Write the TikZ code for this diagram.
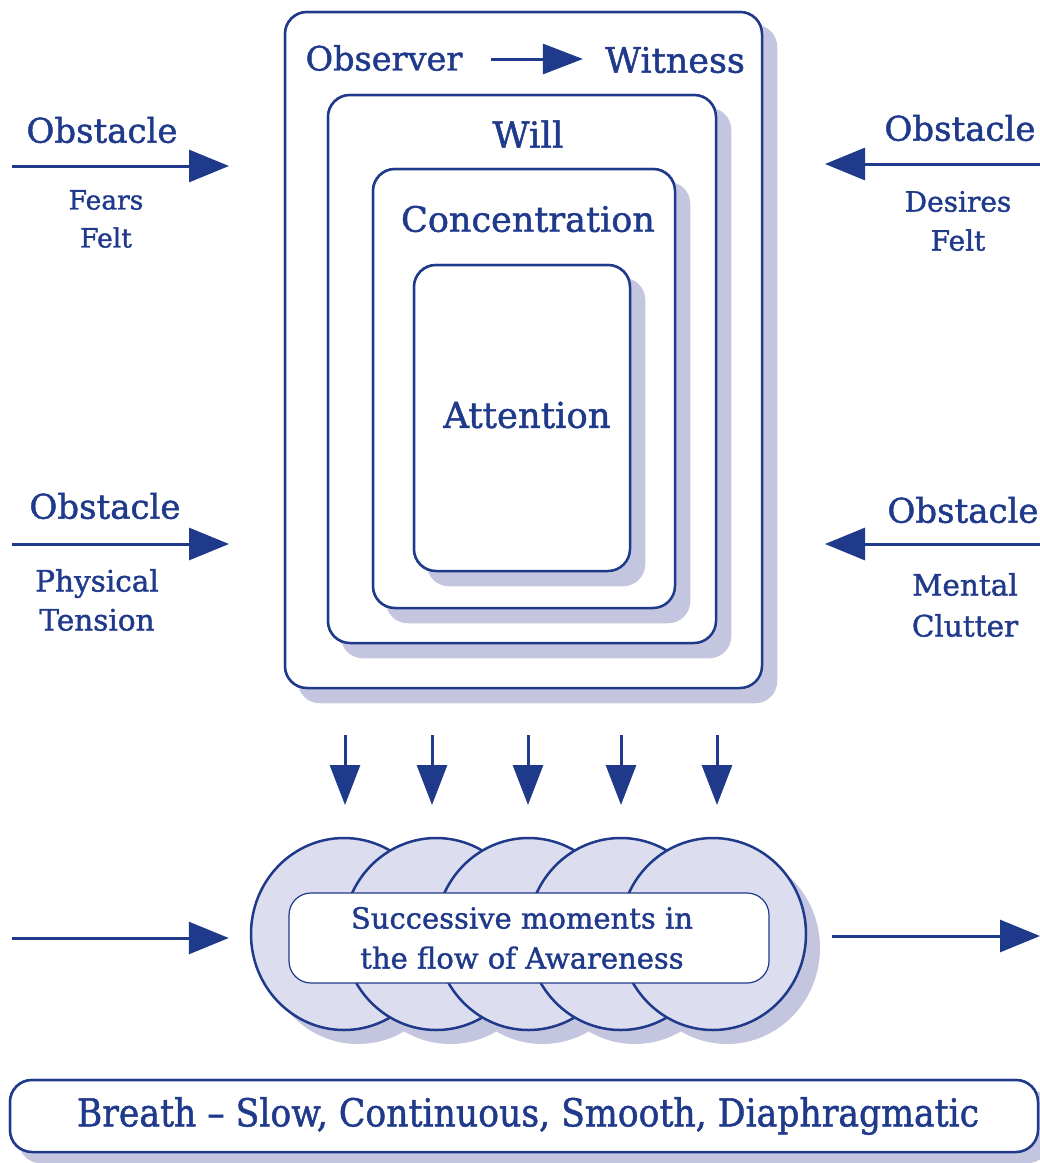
\documentclass[tikz,border=0pt]{standalone}
\usepackage{fontspec}
\setmainfont{DejaVu Serif}[FakeBold=1.3]
\usepackage{graphicx}
\usetikzlibrary{arrows.meta,shapes.geometric,calc}
\definecolor{navy}{RGB}{31,57,139}
\definecolor{shadowc}{RGB}{196,197,222}
\definecolor{disc}{RGB}{220,221,238}
\newcommand{\fsz}[1]{\fontsize{#1}{#1}\selectfont}
\tikzset{
 frame/.style={draw=navy, line width=2.5pt, fill=white, rounded corners=22pt, inner sep=0pt},
 big/.style={text=navy, font=\fsz{33}, inner sep=0pt},
 small/.style={text=navy, font=\fontsize{29}{38}\selectfont, inner sep=0pt, align=center},
 arr/.style={draw=navy, line width=3pt, -{Triangle[length=40pt,width=32pt]}},
 darr/.style={draw=navy, line width=3pt, -{Triangle[length=40pt,width=30pt]}},
 moment/.style={ellipse, draw=navy, line width=2.5pt, fill=disc, minimum width=186pt, minimum height=192pt, inner sep=0pt},
 shadowof/.style={fill=shadowc, rounded corners=22pt},
}
\begin{document}
\begin{tikzpicture}[x=1pt,y=-1pt]
\useasboundingbox (0,0) rectangle (1040,1163);

% nested boxes
\node[frame, minimum width=477pt, minimum height=676pt] (outer) at (523.5,350) {};
\fill[shadowof] ($(outer.north west)+(14,14)$) rectangle ($(outer.south east)+(14,14)$);
\node[frame, minimum width=477pt, minimum height=676pt] (outerb) at (523.5,350) {};
\node[frame, minimum width=388pt, minimum height=548pt] (will0) at (522,369) {};
\fill[shadowof] ($(will0.north west)+(14,14)$) rectangle ($(will0.south east)+(14,14)$);
\node[frame, minimum width=388pt, minimum height=548pt] (will) at (522,369) {};
\node[frame, minimum width=302pt, minimum height=439pt] (conc0) at (524,388.5) {};
\fill[shadowof] ($(conc0.north west)+(14,14)$) rectangle ($(conc0.south east)+(14,14)$);
\node[frame, minimum width=302pt, minimum height=439pt] (conc) at (524,388.5) {};
\node[frame, minimum width=216pt, minimum height=306pt] (att0) at (522,418) {};
\fill[shadowof] ($(att0.north west)+(14,14)$) rectangle ($(att0.south east)+(14,14)$);
\node[frame, minimum width=216pt, minimum height=306pt] (att) at (522,418) {};

\node[big, font=\fsz{33.5}] (obs) at (384,58) {Observer};
\node[big, font=\fsz{35}] (wit) at (675,60) {Witness};
\draw[darr, shorten <=28pt, shorten >=22pt] (obs.east |- 0,59) -- (wit.west |- 0,59);
\node[big, font=\fsz{36}] (willt) at (528,134) {Will};
\node[big, font=\fsz{35}] (conct) at (528,219) {Concentration};
\node[big, font=\fsz{35.5}] (attt) at (527,415) {Attention};

% obstacles
\node[big, font=\fsz{34}] (ob1) at (102,130) {Obstacle};
\coordinate (a1s) at (12,166); \coordinate (a1e) at (229,166);
\draw[arr] (a1s) -- (a1e);
\node[small, font=\fontsize{26.5}{38}\selectfont] (l1) at (106,219) {Fears\\Felt};

\node[big, font=\fsz{34}] (ob2) at (960,128) {Obstacle};
\coordinate (a2s) at (1040,164); \coordinate (a2e) at (825,164);
\draw[arr] (a2s) -- (a2e);
\node[small, font=\fontsize{28}{39}\selectfont] (l2) at (958,221) {Desires\\Felt};

\node[big, font=\fsz{34}] (ob3) at (105,506) {Obstacle};
\coordinate (a3s) at (12,544); \coordinate (a3e) at (229,544);
\draw[arr] (a3s) -- (a3e);
\node[small, font=\fontsize{29.5}{39}\selectfont] (l3) at (97,600) {Physical\\Tension};

\node[big, font=\fsz{34}] (ob4) at (963,510) {Obstacle};
\coordinate (a4s) at (1040,544); \coordinate (a4e) at (825,544);
\draw[arr] (a4s) -- (a4e);
\node[small, font=\fontsize{29.5}{41}\selectfont] (l4) at (965,605) {Mental\\Clutter};

% down arrows
\foreach \i/\x in {1/345,2/432,3/528,4/621,5/717}{
  \coordinate (d\i s) at (\x,735); \coordinate (d\i e) at (\x,805);
  \draw[darr] (d\i s) -- (d\i e);
}

% moments
\foreach \i/\x in {1/344,2/436.25,3/528.5,4/620.75,5/713}{
  \fill[shadowc] (\x+14,948) ellipse [x radius=93pt, y radius=96pt];
}
\foreach \i/\x in {1/344,2/436.25,3/528.5,4/620.75,5/713}{
  \node[moment] (m\i) at (\x,934) {};
}
\node[draw=navy, line width=1.2pt, fill=white, rounded corners=22pt, minimum width=480pt, minimum height=90pt, inner sep=0pt] (flowbox) at (529,938) {};
\node[small, font=\fontsize{29}{40}\selectfont] (flow) at (522,938) {Successive moments in\\the flow of Awareness};

\coordinate (ins) at (12,938); \coordinate (outs) at (832,936); \coordinate (oute) at (1040,936);
\draw[arr, shorten >=21pt] (ins) -- (m1.west |- ins);
\draw[arr] (outs) -- (oute);

% breath
\node[frame, minimum width=1028pt, minimum height=72pt] (br0) at (524,1116) {};
\fill[shadowof] ($(br0.north west)+(10,10)$) rectangle ($(br0.south east)+(10,10)$);
\node[frame, minimum width=1028pt, minimum height=72pt] (breath) at (524,1116) {};
\node[text=navy, inner sep=0pt, font=\fsz{38.5}] (brt) at (528,1116) {\scalebox{0.9}[1]{Breath -- Slow, Continuous, Smooth, Diaphragmatic}};
\end{tikzpicture}
\end{document}
